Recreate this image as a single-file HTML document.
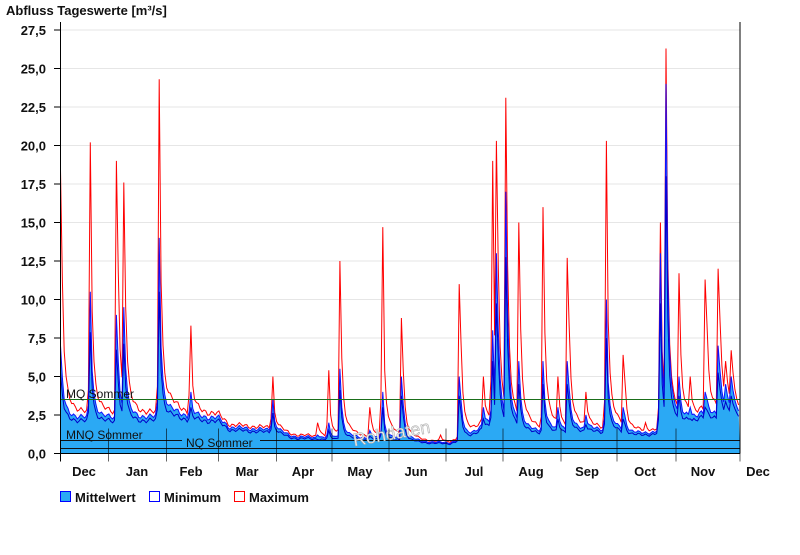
<!DOCTYPE html>
<html><head><meta charset="utf-8"><style>
body{margin:0;background:#fff;font-family:"Liberation Sans",Arial,sans-serif}
</style></head><body>
<svg id="s" width="800" height="550" xmlns="http://www.w3.org/2000/svg" font-family="Liberation Sans, Arial, sans-serif">
<text x="6" y="15" font-size="13" font-weight="bold" fill="#111">Abfluss Tageswerte [m³/s]</text>
<g id="grid"></g>
<g id="data"></g>
<g id="over"></g>
</svg>
<script>
var NS="http://www.w3.org/2000/svg";
function el(p,t,a,txt){var e=document.createElementNS(NS,t);for(var k in a)e.setAttribute(k,a[k]);if(txt!=null)e.textContent=txt;document.getElementById(p).appendChild(e);return e;}
var X0=60.5,X1=740,Y0=453.5,K=38.5/2.5;
function Y(v){return Y0-v*K;}
for(var i=0;i<=11;i++){var v=i*2.5,y=Y(v);
 if(i>0)el('grid','line',{x1:X0,x2:X1,y1:y,y2:y,stroke:'#e6e6e6','stroke-width':1});
 el('grid','line',{x1:54,x2:X0,y1:y,y2:y,stroke:'#000'});
 el('grid','text',{x:46,y:y+5,'font-size':13,'font-weight':'bold','text-anchor':'end',fill:'#111'},v.toFixed(1).replace('.',','));}
var base=[[60,2.4],[108,2.2],[150,2.3],[166,2.5],[218,2.3],[230,1.7],[276,1.5],[290,1.1],[330,1.0],[380,1.0],[400,0.9],[420,0.75],[450,0.7],[470,1.2],[490,2.0],[530,1.5],[560,1.5],[590,1.6],[640,1.3],[655,1.4],[700,2.5],[740,2.8]];
function bl(x){for(var i=0;i<base.length-1;i++)if(x<=base[i+1][0]){var a=base[i],b=base[i+1];return a[1]+(b[1]-a[1])*(x-a[0])/(b[0]-a[0]);}return 2.8;}
var pk=[[61,18.4,7],[90,20.2,10.5],[117,19,9],[124,17.6,9.5],[159,24.3,14],[190,8.3,4],[240,1.6,1.2],[272,5,3.5],[318,2,1.2],[328,5.4,2],[340,12.5,5.5],[370,3,1.5],[382,14.7,4],[402,8.8,5],[440,1.2,0.5],[460,11,5],[483,5,3],[492,19,8],[497,20.3,13],[506,23.1,17],[519,15,6],[543,16,6],[558,5,3],[568,12.7,6],[586,4,2.5],[606,20.3,10],[624,6.4,3],[645,2,1],[660,15,13],[666,26.3,24],[679,11.7,5],[690,5,3],[706,11.3,4],[719,12,7],[726,6,4.5],[732,6.7,5]];
var mx=[],mn=[],mi=[],xs=[],k=0;
for(var x=X0;x<=X1;x+=1.863){k++;var nz=1+0.06*Math.sin(k*1.7)+0.04*Math.sin(k*0.53);var b=bl(x)*nz,M=b*1.1,A=b,m=b*0.9;
 pk.forEach(function(p){var d=(x-p[0])/1.863;if(d<-2)return;var f=d<0?Math.exp(d*3):Math.exp(-d/1.0)*0.85+Math.exp(-d/5)*0.15;if(Math.abs(d)<0.5)f=1;
  M=Math.max(M,b*1.1+(p[1]-b*1.1)*f);A=Math.max(A,b+(p[2]-b)*f);m=Math.max(m,b*0.9+(p[2]*0.75-b*0.9)*f);});
 xs.push(x);mx.push(Math.max(M,A*1.05));mi.push(A);mn.push(Math.min(m,A*0.92));}
function line(arr){return arr.map(function(v,i){return (i?'L':'M')+xs[i].toFixed(1)+','+Y(Math.max(v,0)).toFixed(1);}).join('');}
el('data','path',{d:line(mi)+'L'+X1+','+Y0+'L'+X0+','+Y0+'Z',fill:'#2ba9f4'});
el('data','path',{d:line(mx),fill:'none',stroke:'#f00','stroke-width':1});
el('data','path',{d:line(mi),fill:'none',stroke:'#1010ff','stroke-width':1});
el('data','path',{d:line(mn),fill:'none',stroke:'#0000c8','stroke-width':1});
el('over','line',{x1:X0,x2:X1,y1:399.5,y2:399.5,stroke:'#1a6e1a'});
el('over','text',{x:66,y:398,'font-size':12,fill:'#111'},'MQ Sommer');
el('over','line',{x1:X0,x2:X1,y1:440.5,y2:440.5,stroke:'#111'});
el('over','text',{x:66,y:439,'font-size':12,fill:'#111'},'MNQ Sommer');
el('over','line',{x1:X0,x2:X1,y1:448.5,y2:448.5,stroke:'#111'});
el('over','rect',{x:182,y:437,width:78,height:10,fill:'#2ba9f4'});
el('over','text',{x:186,y:447,'font-size':12,fill:'#111'},'NQ Sommer');
el('over','text',{x:352,y:438,'font-size':18,fill:'#eeeeee',stroke:'#aaa','stroke-width':0.5,transform:'rotate(-10 400 430)'},'Rohdaten');
el('over','line',{x1:X0,x2:X0,y1:22,y2:Y0+8,stroke:'#000'});
el('over','line',{x1:X1,x2:X1,y1:22,y2:Y0,stroke:'#000'});
el('over','line',{x1:X0,x2:X1,y1:Y0,y2:Y0,stroke:'#000'});
var tk=[60.5,108.5,166.5,218.5,276.5,332,389,446,503,561,617,676,740];
tk.forEach(function(t){el('over','line',{x1:t,x2:t,y1:Y0-25,y2:Y0+8,stroke:'#000','stroke-opacity':0.6});});
var ms=['Dec','Jan','Feb','Mar','Apr','May','Jun','Jul','Aug','Sep','Oct','Nov','Dec'],mx2=[84,137,191,247,303,360,416,474,531,587,645,703,758];
ms.forEach(function(m,i){el('over','text',{x:mx2[i],y:476,'font-size':13,'font-weight':'bold','text-anchor':'middle',fill:'#111'},m);});
el('over','rect',{x:60.5,y:491.5,width:10,height:10,fill:'#2ba9f4',stroke:'#00f'});
el('over','text',{x:75,y:502,'font-size':13,'font-weight':'bold',fill:'#111'},'Mittelwert');
el('over','rect',{x:149.5,y:491.5,width:10,height:10,fill:'#fff',stroke:'#00f'});
el('over','text',{x:164,y:502,'font-size':13,'font-weight':'bold',fill:'#111'},'Minimum');
el('over','rect',{x:234.5,y:491.5,width:10,height:10,fill:'#fff',stroke:'#f00'});
el('over','text',{x:249,y:502,'font-size':13,'font-weight':'bold',fill:'#111'},'Maximum');
</script>
</body></html>
